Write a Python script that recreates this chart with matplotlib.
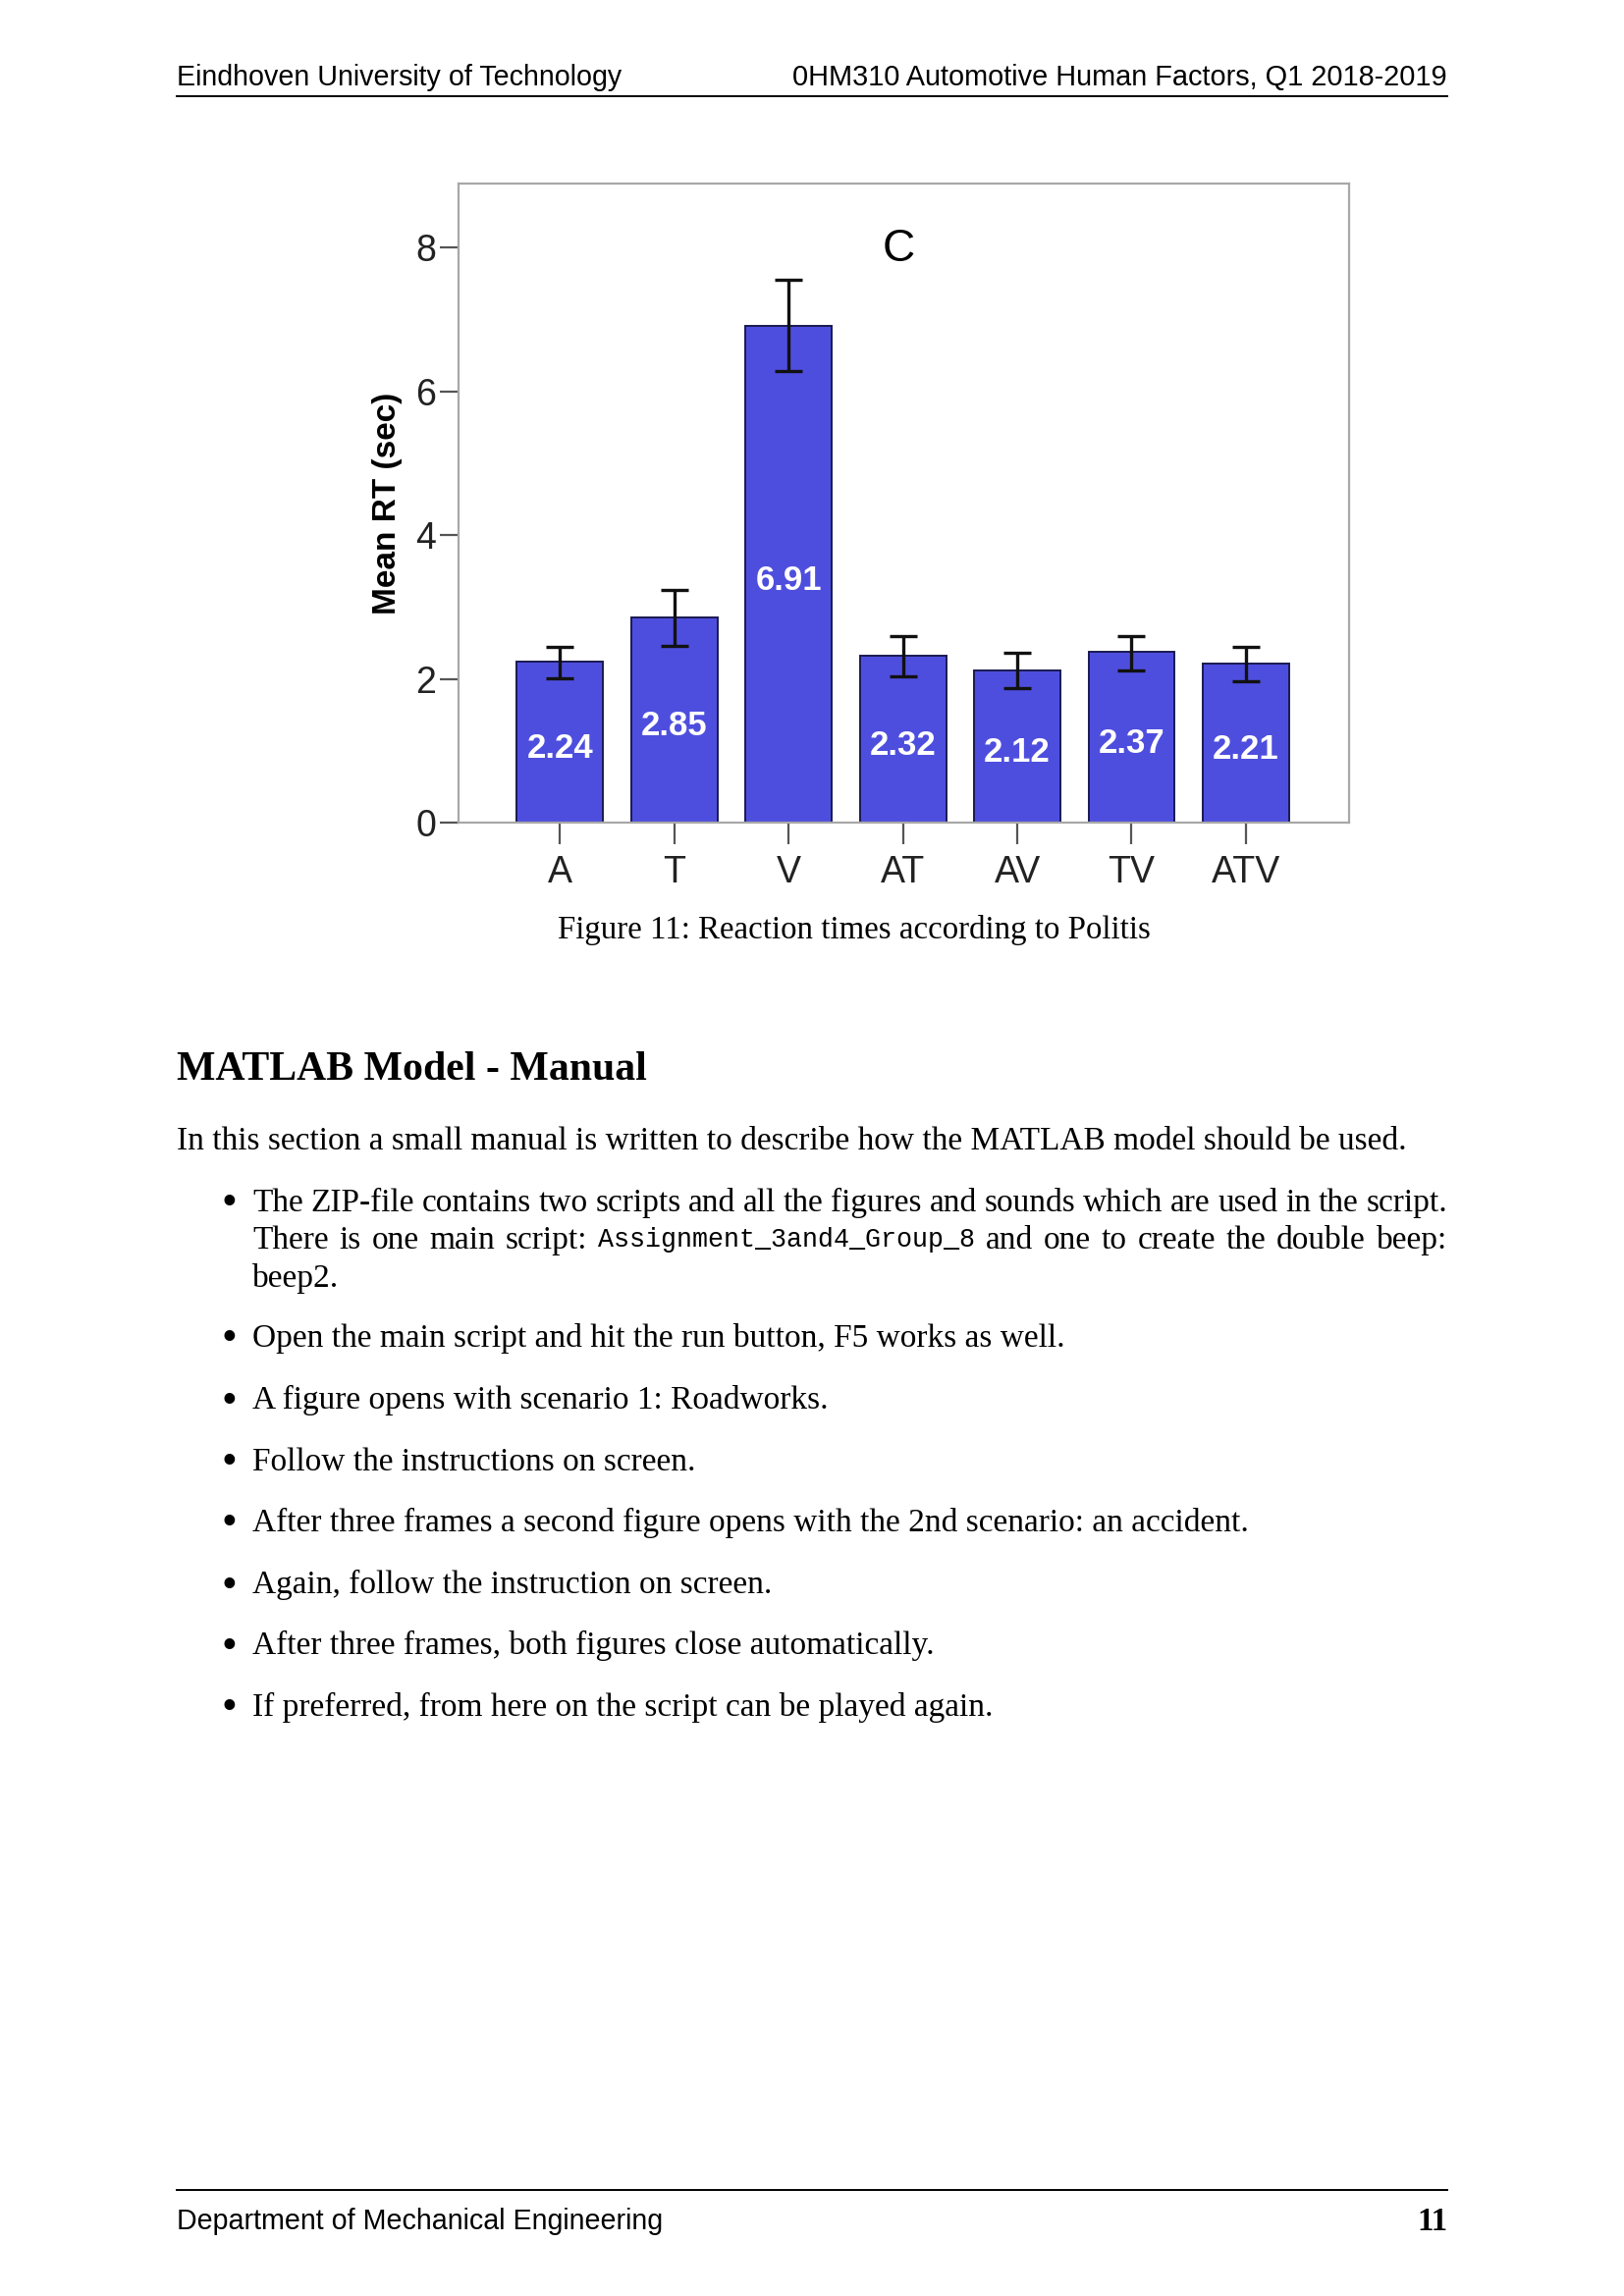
import matplotlib
matplotlib.use("Agg")
import matplotlib.pyplot as plt
from matplotlib.lines import Line2D

W, H, DPI = 1654, 2339, 200

# chart data
conditions = ["A", "T", "V", "AT", "AV", "TV", "ATV"]
mean_rt = [2.24, 2.85, 6.91, 2.32, 2.12, 2.37, 2.21]
ci_low = [2.01, 2.46, 6.28, 2.03, 1.87, 2.12, 1.97]
ci_high = [2.45, 3.23, 7.55, 2.59, 2.36, 2.60, 2.44]
y_ticks = [0, 2, 4, 6, 8]

header_left = "Eindhoven University of Technology"
header_right = "0HM310 Automotive Human Factors, Q1 2018-2019"
footer_left = "Department of Mechanical Engineering"
page_no = "11"
caption = "Figure 11: Reaction times according to Politis"
heading = "MATLAB Model - Manual"
intro = "In this section a small manual is written to describe how the MATLAB model should be used."
bullets = [
    "Open the main script and hit the run button, F5 works as well.",
    "A figure opens with scenario 1: Roadworks.",
    "Follow the instructions on screen.",
    "After three frames a second figure opens with the 2nd scenario: an accident.",
    "Again, follow the instruction on screen.",
    "After three frames, both figures close automatically.",
    "If preferred, from here on the script can be played again.",
]

SERIF = "Liberation Serif"
SANS = "Liberation Sans"
MONO = "Liberation Mono"

fig = plt.figure(figsize=(W / DPI, H / DPI), dpi=DPI)
renderer = fig.canvas.get_renderer()


def px(x, y):
    return x / W, 1 - y / H


def fitted(x, y, s, width, size=11, ha="left", **kw):
    t = fig.text(*px(x, y), s, fontsize=size, ha=ha, va="center_baseline", **kw)
    w = t.get_window_extent(renderer).width
    t.set_fontsize(size * width / w)
    return t


def justified(x0, x1, y, words):
    # words: (text, family, size)
    arts = [fig.text(*px(x0, y), w, fontsize=sz, family=f, va="center_baseline")
            for w, f, sz in words]
    widths = [a.get_window_extent(renderer).width for a in arts]
    gap = (x1 - x0 - sum(widths)) / (len(arts) - 1)
    x = x0
    for a, w in zip(arts, widths):
        a.set_x(x / W)
        x += w + gap


def hline(x0, x1, y, lw=0.7):
    fig.add_artist(Line2D([x0 / W, x1 / W], [1 - y / H, 1 - y / H],
                          transform=fig.transFigure, color="black", lw=lw))


def bullet(y, size):
    fig.text(*px(233, y), "\u2022", fontsize=size * 1.35, family=SERIF,
             ha="center", va="center_baseline")


LM, RM = 180, 1474

# header / footer
hs = fitted(LM, 76, header_left, 452, family=SANS).get_fontsize()
fitted(RM, 76, header_right, 667, ha="right", family=SANS)
hline(LM, RM, 98)
hline(LM, RM, 2231)
fitted(LM, 2260, footer_left, 493, family=SANS)
fig.text(*px(RM, 2260), page_no, ha="right", va="center_baseline",
         fontsize=hs * 1.15, family=SERIF, fontweight="bold")

# chart
ax = fig.add_axes([466.7 / W, 1 - 838 / H, 907 / W, 651 / H])
x = range(len(conditions))
lower = [m - lo for m, lo in zip(mean_rt, ci_low)]
upper = [hi - m for m, hi in zip(mean_rt, ci_high)]
ax.bar(x, mean_rt, width=0.755, color="#4E4EDE", edgecolor="#1a1a50",
       linewidth=0.7, zorder=2)
ax.errorbar(x, mean_rt, yerr=[lower, upper], fmt="none", ecolor="#111111",
            elinewidth=1.2, capsize=5.2, capthick=1.2, zorder=3)
for i, v in enumerate(mean_rt):
    ax.text(i, v / 2 - 0.085, f"{v:.2f}", ha="center", va="center",
            color="white", fontsize=12.5, fontweight="bold", family=SANS, zorder=4)
ax.text(0.494, 0.8965, "C", transform=ax.transAxes, ha="center", va="center",
        fontsize=16.5, family=SANS)
ax.set_xlim(-0.89, 6.9)
ax.set_ylim(0, 8.89)
ax.set_xticks(list(x))
ax.set_xticklabels(conditions, family=SANS)
ax.set_yticks(y_ticks)
ax.set_yticklabels([str(t) for t in y_ticks], family=SANS)
ax.tick_params(axis="y", length=7, width=0.8, color="#555555", pad=1,
               labelsize=13.5, labelcolor="#222222")
ax.tick_params(axis="x", length=8, width=0.8, color="#555555", pad=4,
               labelsize=13.5, labelcolor="#222222")
for sp in ax.spines.values():
    sp.set_color("#A8A8A8")
    sp.set_linewidth(0.8)
ax.set_ylabel("Mean RT (sec)", fontsize=12, fontweight="bold", family=SANS)
ax.yaxis.set_label_coords(-0.062, 0.5)

# caption and text
fitted(870, 944, caption, 603, ha="center", family=SERIF)
fitted(LM, 1086, heading, 478, family=SERIF, fontweight="bold")
bs = fitted(LM, 1159, intro, 1249, family=SERIF).get_fontsize()

TX = 257
mono_word = "Assignment_3and4_Group_8"
probe = fig.text(0, 0, mono_word, fontsize=10, family=MONO)
ms = 10 * 382 / probe.get_window_extent(renderer).width
probe.remove()

line1 = "The ZIP-file contains two scripts and all the figures and sounds which are used in the script."
justified(TX, RM, 1222, [(w, SERIF, bs) for w in line1.split()])
line2 = [(w, SERIF, bs) for w in "There is one main script:".split()]
line2 += [(mono_word, MONO, ms)]
line2 += [(w, SERIF, bs) for w in "and one to create the double beep:".split()]
justified(TX, RM, 1260, line2)
fig.text(*px(TX, 1299), "beep2.", fontsize=bs, family=SERIF, va="center_baseline")
bullet(1222, bs)

ys = [1360, 1423, 1486, 1548, 1611, 1673, 1736]
for yb, s in zip(ys, bullets):
    bullet(yb, bs)
    fig.text(*px(TX, yb), s, fontsize=bs, family=SERIF, va="center_baseline")

fig.savefig("out.png", dpi=DPI)
